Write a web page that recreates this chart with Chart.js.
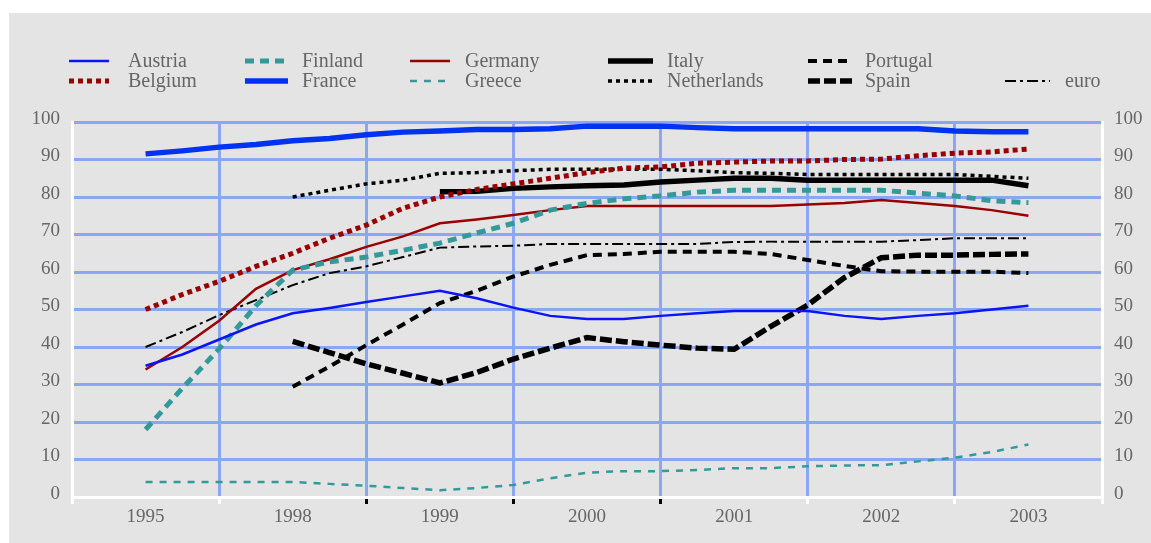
<!DOCTYPE html>
<html>
<head>
<meta charset="utf-8">
<script src="https://cdn.jsdelivr.net/npm/chart.js@4/dist/chart.umd.min.js"></script>
<style>
body { margin: 0; background: #fff; }
#wrap { position: absolute; left: 9px; top: 13px; width: 1142px; height: 530px; background: #e4e4e4; }
</style>
</head>
<body>
<div id="wrap"><canvas id="chart" width="1142" height="530"></canvas></div>
<script>
// x axis categories, one sample per quarter from 1995 to 2003
var years = ['1995', '1998', '1999', '2000', '2001', '2002', '2003'];
var yTicks = [0, 10, 20, 30, 40, 50, 60, 70, 80, 90, 100];

var austria     = [35, 38, 42, 46, 49, 50.4, 52, 53.5, 55, 53, 50.5, 48.3, 47.5, 47.5, 48.3, 49, 49.6, 49.6, 49.6, 48.3, 47.5, 48.3, 49, 50, 51];
var belgium     = [50, 54, 57.5, 61.5, 65, 69, 72.5, 77, 80, 82, 83.5, 85, 86.5, 87.7, 88, 89, 89.3, 89.6, 89.6, 90, 90.1, 91, 91.7, 92, 92.8];
var finland     = [18, 29, 39.5, 51, 60.5, 62.7, 64, 65.8, 67.7, 70.4, 73, 76.5, 78.3, 79.5, 80.3, 81.3, 81.8, 81.8, 81.8, 81.8, 81.8, 81, 80.3, 79, 78.5];
var france      = [91.5, 92.3, 93.3, 94, 95, 95.6, 96.6, 97.3, 97.6, 98, 98, 98.2, 98.9, 98.9, 98.9, 98.5, 98.2, 98.2, 98.2, 98.2, 98.2, 98.2, 97.6, 97.4, 97.4];
var germany     = [34, 40, 47, 55.5, 60.5, 63.4, 66.7, 69.5, 73, 74, 75.2, 76.5, 77.6, 77.6, 77.6, 77.6, 77.6, 77.6, 78, 78.4, 79.2, 78.4, 77.6, 76.5, 75];
var greece      = [4, 4, 4, 4, 4, 3.5, 3, 2.4, 1.8, 2.4, 3.2, 5, 6.5, 6.9, 6.9, 7.2, 7.7, 7.7, 8.2, 8.4, 8.5, 9.5, 10.5, 12, 14];
var italy       = [null, null, null, null, null, null, null, null, 81.4, 81.5, 82.3, 82.7, 83, 83.2, 84, 84.5, 85, 85, 84.5, 84.5, 84.5, 84.5, 84.5, 84.5, 83];
var netherlands = [null, null, null, null, 80, 81.8, 83.5, 84.5, 86.3, 86.5, 87, 87.4, 87.4, 87.4, 87.4, 87, 86.5, 86.3, 86, 86, 86, 86, 86, 85.5, 85];
var portugal    = [null, null, null, null, 29.4, 34.8, 40.5, 46, 51.7, 55, 58.8, 61.9, 64.5, 64.8, 65.4, 65.4, 65.4, 64.8, 63.2, 61.6, 60.2, 60.1, 60.1, 60.1, 59.7];
var spain       = [null, null, null, null, 41.5, 38.5, 35.5, 33, 30.4, 33.2, 36.8, 39.7, 42.5, 41.4, 40.5, 39.7, 39.4, 45.5, 51.2, 58.5, 63.8, 64.5, 64.5, 64.7, 64.8];
var euro        = [40, 44, 48.5, 52.5, 56.5, 59.7, 61.5, 64, 66.5, 66.8, 67, 67.5, 67.5, 67.5, 67.5, 67.5, 68, 68.1, 68.1, 68.1, 68.1, 68.5, 69, 69, 69];

function pts(arr) {
    return arr.map(function (v, i) { return { x: 0.5 + i * 0.25, y: v }; });
}

var grid = '#8ca7f2';
var txt = '#666666';
var fnt = { family: 'Liberation Serif', size: 19 };

function line(label, arr, color, width, dash) {
    return {
        label: label,
        data: pts(arr),
        borderColor: color,
        backgroundColor: color,
        borderWidth: width,
        borderDash: dash,
        pointRadius: 0,
        tension: 0,
        fill: false
    };
}

var datasets = [
    line('Austria', austria, '#0a14f5', 2.5, []),
    line('Belgium', belgium, '#990000', 5, [5, 4]),
    line('Finland', finland, '#339999', 5, [9, 6]),
    line('France', france, '#0033f0', 5.5, []),
    line('Germany', germany, '#990000', 2.5, []),
    line('Greece', greece, '#339999', 2.5, [7, 7]),
    line('Italy', italy, '#000000', 5.5, []),
    line('Netherlands', netherlands, '#000000', 3.5, [4, 4]),
    line('Portugal', portugal, '#000000', 4, [9, 6]),
    line('Spain', spain, '#000000', 5.5, [12, 4]),
    line('euro', euro, '#000000', 2, [11, 4, 3, 4])
];

// legend laid out in columns, drawn on the canvas
var legendPlugin = {
    id: 'gridLegend',
    afterDraw: function (chart) {
        var ctx = chart.ctx;
        var colLine = [60, 236, 401, 599, 799, 996];
        var colText = [119, 293, 456, 658, 856, 1056];
        var lineLen = [40, 43, 40, 45, 45, 45];
        var rows = [48, 68];
        var n = chart.data.datasets.length;
        ctx.save();
        chart.data.datasets.forEach(function (ds, i) {
            var col = Math.floor(i / 2), row = i % 2;
            if (i === n - 1) { col = 5; row = 1; }
            var y = rows[row];
            ctx.beginPath();
            ctx.strokeStyle = ds.borderColor;
            ctx.lineWidth = ds.borderWidth;
            ctx.setLineDash(ds.borderDash);
            ctx.moveTo(colLine[col], y);
            ctx.lineTo(colLine[col] + lineLen[col], y);
            ctx.stroke();
            ctx.setLineDash([]);
            ctx.fillStyle = txt;
            ctx.font = '20px "Liberation Serif"';
            ctx.textBaseline = 'middle';
            ctx.textAlign = 'left';
            ctx.fillText(ds.label, colText[col], y + 1);
        });
        ctx.restore();
    }
};

new Chart(document.getElementById('chart'), {
    type: 'line',
    data: { datasets: datasets },
    plugins: [legendPlugin],
    options: {
        responsive: false,
        animation: false,
        layout: { padding: { top: 109, left: 0, right: 0, bottom: 0 } },
        plugins: { legend: { display: false }, tooltip: { enabled: false } },
        scales: {
            x: {
                type: 'linear',
                min: 0,
                max: 7,
                afterBuildTicks: function (axis) {
                    var t = [];
                    for (var i = 0; i <= 14; i++) t.push({ value: i / 2 });
                    axis.ticks = t;
                },
                afterFit: function (axis) { axis.height = 46; },
                ticks: {
                    autoSkip: false,
                    maxRotation: 0,
                    color: txt,
                    font: fnt,
                    padding: 2,
                    callback: function (v) { return (v % 1 === 0.5) ? years[Math.floor(v)] : ''; }
                },
                grid: {
                    color: function (c) {
                        var v = c.tick ? c.tick.value : 0;
                        return (v % 1 === 0 && v > 0 && v < 7) ? grid : 'rgba(0,0,0,0)';
                    },
                    lineWidth: 3,
                    tickLength: 7,
                    tickWidth: 3,
                    tickColor: function (c) {
                        var v = c.tick ? c.tick.value : 0;
                        if (v % 1 !== 0) return 'rgba(0,0,0,0)';
                        return (v >= 2 && v <= 4) ? '#000' : '#fff';
                    }
                },
                border: { color: '#fff', width: 3 }
            },
            y: {
                min: 0,
                max: 100,
                afterBuildTicks: function (axis) {
                    axis.ticks = yTicks.map(function (v) { return { value: v }; });
                },
                afterFit: function (axis) { axis.width = 63; },
                ticks: { color: txt, font: fnt, padding: 12, labelOffset: -3 },
                grid: { color: grid, lineWidth: 3, drawTicks: false },
                border: { color: '#fff', width: 3 }
            },
            y2: {
                position: 'right',
                min: 0,
                max: 100,
                afterBuildTicks: function (axis) {
                    axis.ticks = yTicks.map(function (v) { return { value: v }; });
                },
                afterFit: function (axis) { axis.width = 49; },
                ticks: { color: txt, font: fnt, padding: 12, labelOffset: -3 },
                grid: { drawOnChartArea: false, drawTicks: false },
                border: { color: '#fff', width: 3 }
            }
        }
    }
});
</script>
</body>
</html>
